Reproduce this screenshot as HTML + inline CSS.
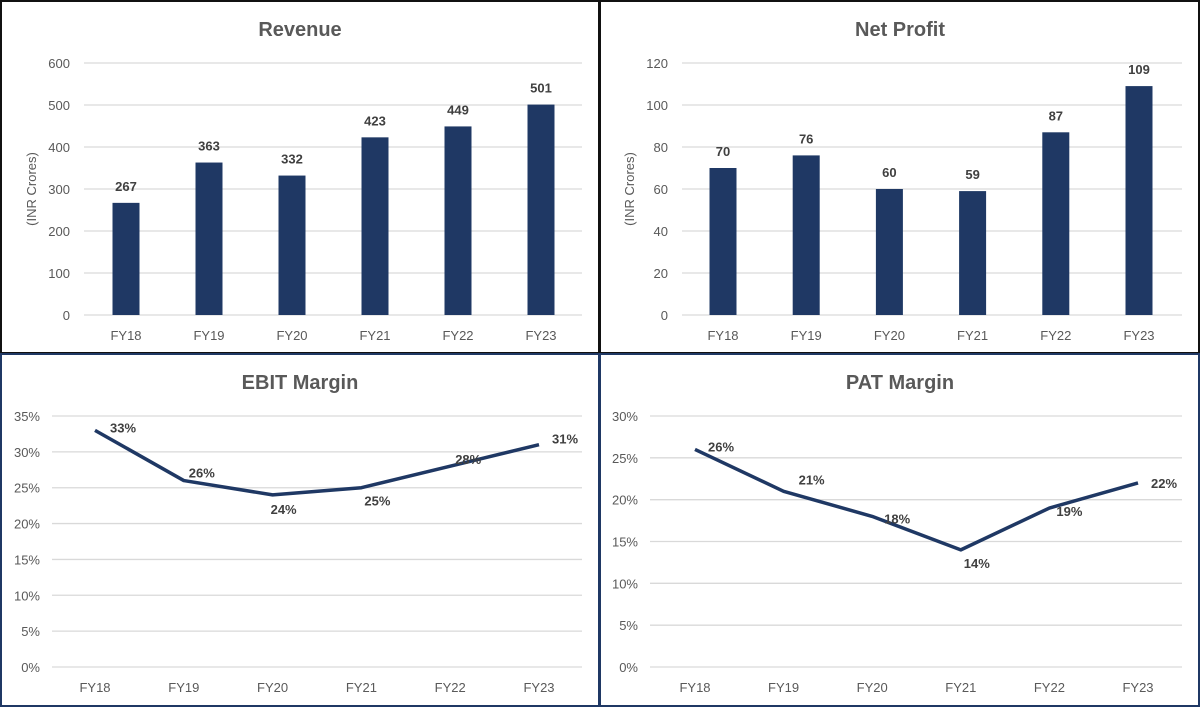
<!DOCTYPE html>
<html><head><meta charset="utf-8"><style>
body{margin:0;background:#fff;font-family:"Liberation Sans",sans-serif}
svg{display:block}
text{font-family:"Liberation Sans",sans-serif}
</style></head><body>
<svg id="s" width="1200" height="708">
<rect x="1" y="1" width="598" height="352" fill="none" stroke="#111" stroke-width="2"/>
<rect x="600" y="1" width="599" height="352" fill="none" stroke="#111" stroke-width="2"/>
<rect x="1" y="354" width="598" height="352" fill="none" stroke="#1f3864" stroke-width="2"/>
<rect x="600" y="354" width="599" height="352" fill="none" stroke="#1f3864" stroke-width="2"/>
</svg>
<script>
const categories=["FY18","FY19","FY20","FY21","FY22","FY23"];
const revenueValues=[267,363,332,423,449,501];
const revenueTicks=[0,100,200,300,400,500,600];
const profitValues=[70,76,60,59,87,109];
const profitTicks=[0,20,40,60,80,100,120];
const ebitValues=[33,26,24,25,28,31];
const ebitTicks=[0,5,10,15,20,25,30,35];
const patValues=[26,21,18,14,19,22];
const patTicks=[0,5,10,15,20,25,30];
const NS="http://www.w3.org/2000/svg";
const svg=document.getElementById('s');
function el(t,a,txt){const e=document.createElementNS(NS,t);for(const k in a)e.setAttribute(k,a[k]);if(txt!==undefined)e.textContent=txt;svg.appendChild(e);return e;}
function chart(o){
  const max=o.ticks[o.ticks.length-1];
  const y=v=>o.y0-(v/max)*(o.y0-o.y1);
  const x=i=>o.x0+i*o.step;
  const t=el('text',{x:o.cx,y:o.ty,'text-anchor':'middle','font-size':20,'font-weight':'bold',fill:'#595959'},o.title);
  
  o.ticks.forEach(v=>{
    const g=el('line',{x1:o.gx0,x2:o.gx1,y1:y(v),y2:y(v),stroke:'#d9d9d9','stroke-width':1.3});
    
    const l=el('text',{x:o.tx,y:y(v)+5,'text-anchor':'end','font-size':13,fill:'#595959'},v+(o.pct?'%':''));
    
  });
  categories.forEach((c,i)=>{
    const l=el('text',{x:x(i),y:o.y0+25,'text-anchor':'middle','font-size':13,fill:'#595959'},c);
    
  });
  if(o.ytitle){
    const yt=el('text',{x:0,y:0,'text-anchor':'middle','font-size':13,fill:'#595959',transform:`translate(${o.ytx},${(o.y0+o.y1)/2}) rotate(-90)`},o.ytitle);
    
  }
  if(o.bars){
    o.vals.forEach((v,i)=>{
      const b=el('rect',{x:x(i)-13.5,y:y(v),width:27,height:o.y0-y(v),fill:'#1f3864'});
      
      const l=el('text',{x:x(i),y:y(v)-12,'text-anchor':'middle','font-size':13,'font-weight':'bold',fill:'#404040'},v);
      
    });
  } else {
    const p=el('polyline',{points:o.vals.map((v,i)=>x(i)+','+y(v)).join(' '),fill:'none',stroke:'#1f3864','stroke-width':3.5,'stroke-linejoin':'round'});
    
    o.vals.forEach((v,i)=>{
      const d=o.off[i];
      const l=el('text',{x:x(i)+d[0],y:y(v)+d[1],'font-size':13,'font-weight':'bold',fill:'#404040'},v+'%');
      
    });
  }
}
chart({key:'revenue',title:'Revenue',cx:300,ty:36,ticks:revenueTicks,vals:revenueValues,bars:true,y0:315,y1:63,x0:126,step:83,gx0:84,gx1:582,tx:70,ytitle:'(INR Crores)',ytx:36});
chart({key:'net-profit',title:'Net Profit',cx:900,ty:36,ticks:profitTicks,vals:profitValues,bars:true,y0:315,y1:63,x0:723,step:83.2,gx0:682,gx1:1182,tx:668,ytitle:'(INR Crores)',ytx:634});
chart({key:'ebit',title:'EBIT Margin',cx:300,ty:389,ticks:ebitTicks,vals:ebitValues,pct:true,y0:667,y1:416,x0:95,step:88.8,gx0:52,gx1:582,tx:40,
  off:[[15,2],[5,-3],[-2,19],[3,18],[5,-2],[13,-1]]});
chart({key:'pat',title:'PAT Margin',cx:900,ty:389,ticks:patTicks,vals:patValues,pct:true,y0:667,y1:416,x0:695,step:88.6,gx0:650,gx1:1182,tx:638,
  off:[[13,2],[15,-7],[12,7],[3,18],[7,8],[13,5]]});
</script>
</body></html>
